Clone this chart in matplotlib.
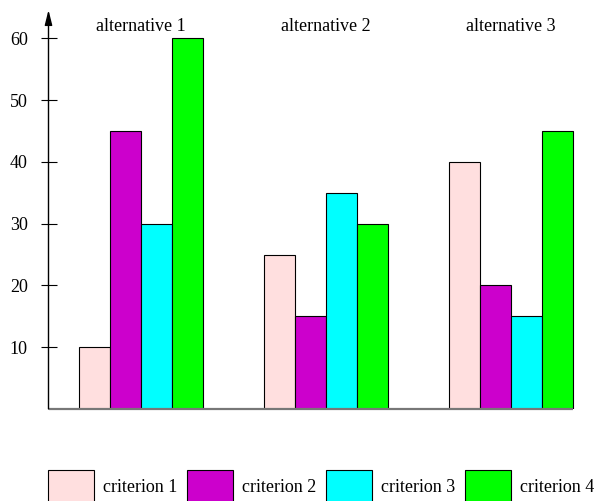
import numpy as np
import matplotlib
matplotlib.use("Agg")
import matplotlib.pyplot as plt
from matplotlib.patches import Patch

plt.rcParams['font.family'] = 'serif'
plt.rcParams['font.serif'] = ['Liberation Serif', 'Times New Roman', 'DejaVu Serif']

# Data
alternatives = ["alternative 1", "alternative 2", "alternative 3"]
criteria = ["criterion 1", "criterion 2", "criterion 3", "criterion 4"]
crit1 = [10, 25, 40]
crit2 = [45, 15, 20]
crit3 = [30, 35, 15]
crit4 = [60, 30, 45]
yticks = [10, 20, 30, 40, 50, 60]
colors = ["#ffdfdf", "#cc00cc", "#00ffff", "#00ff00"]

W, H = 594, 501
fig = plt.figure(figsize=(W / 100, H / 100), dpi=100)
ax = fig.add_axes([48.5 / W, (H - 409) / H, (582 - 48.5) / W, (409 - 10) / H])

x = np.arange(len(alternatives))
bar_w = 31 / 185
series = [crit1, crit2, crit3, crit4]
for i, vals in enumerate(series):
    ax.bar(x + (i - 1.5) * bar_w, vals, width=bar_w, color=colors[i],
           edgecolor="black", linewidth=0.8, zorder=2)

xmin = (48.5 - 141) / 185
ax.set_xlim(xmin, (582 - 141) / 185)
ax.set_ylim(0, 64.6)

for s in ax.spines.values():
    s.set_visible(False)

# baseline up to the last bar, and y axis with arrow
ax.plot([xmin, x[-1] + 2 * bar_w], [0, 0], color="#777777", lw=1.6,
        zorder=3, clip_on=False, solid_capstyle="butt")
ax.annotate("", xy=(0, 1), xytext=(0, 0), xycoords="axes fraction",
            arrowprops=dict(arrowstyle="-|>,head_length=0.6,head_width=0.15",
                            color="black", lw=1, mutation_scale=15,
                            shrinkA=0, shrinkB=0))

ax.set_xticks([])
ax.set_yticks(yticks)
ax.tick_params(axis="y", direction="inout", length=11, width=0.8, pad=9.5,
               labelsize=13)

for xi, name in zip(x, alternatives):
    ax.text(xi, 61.9, name, ha="center", va="center", fontsize=13)

handles = [Patch(facecolor=c, edgecolor="black", linewidth=0.8) for c in colors]
fig.legend(handles, criteria, loc="center left", ncol=4, frameon=False,
           bbox_to_anchor=(48 / W, (H - 487) / H), borderpad=0, borderaxespad=0,
           fontsize=13, handlelength=2.55, handleheight=2.6,
           handletextpad=0.5, columnspacing=0.54)

fig.savefig("out.png", dpi=100)
